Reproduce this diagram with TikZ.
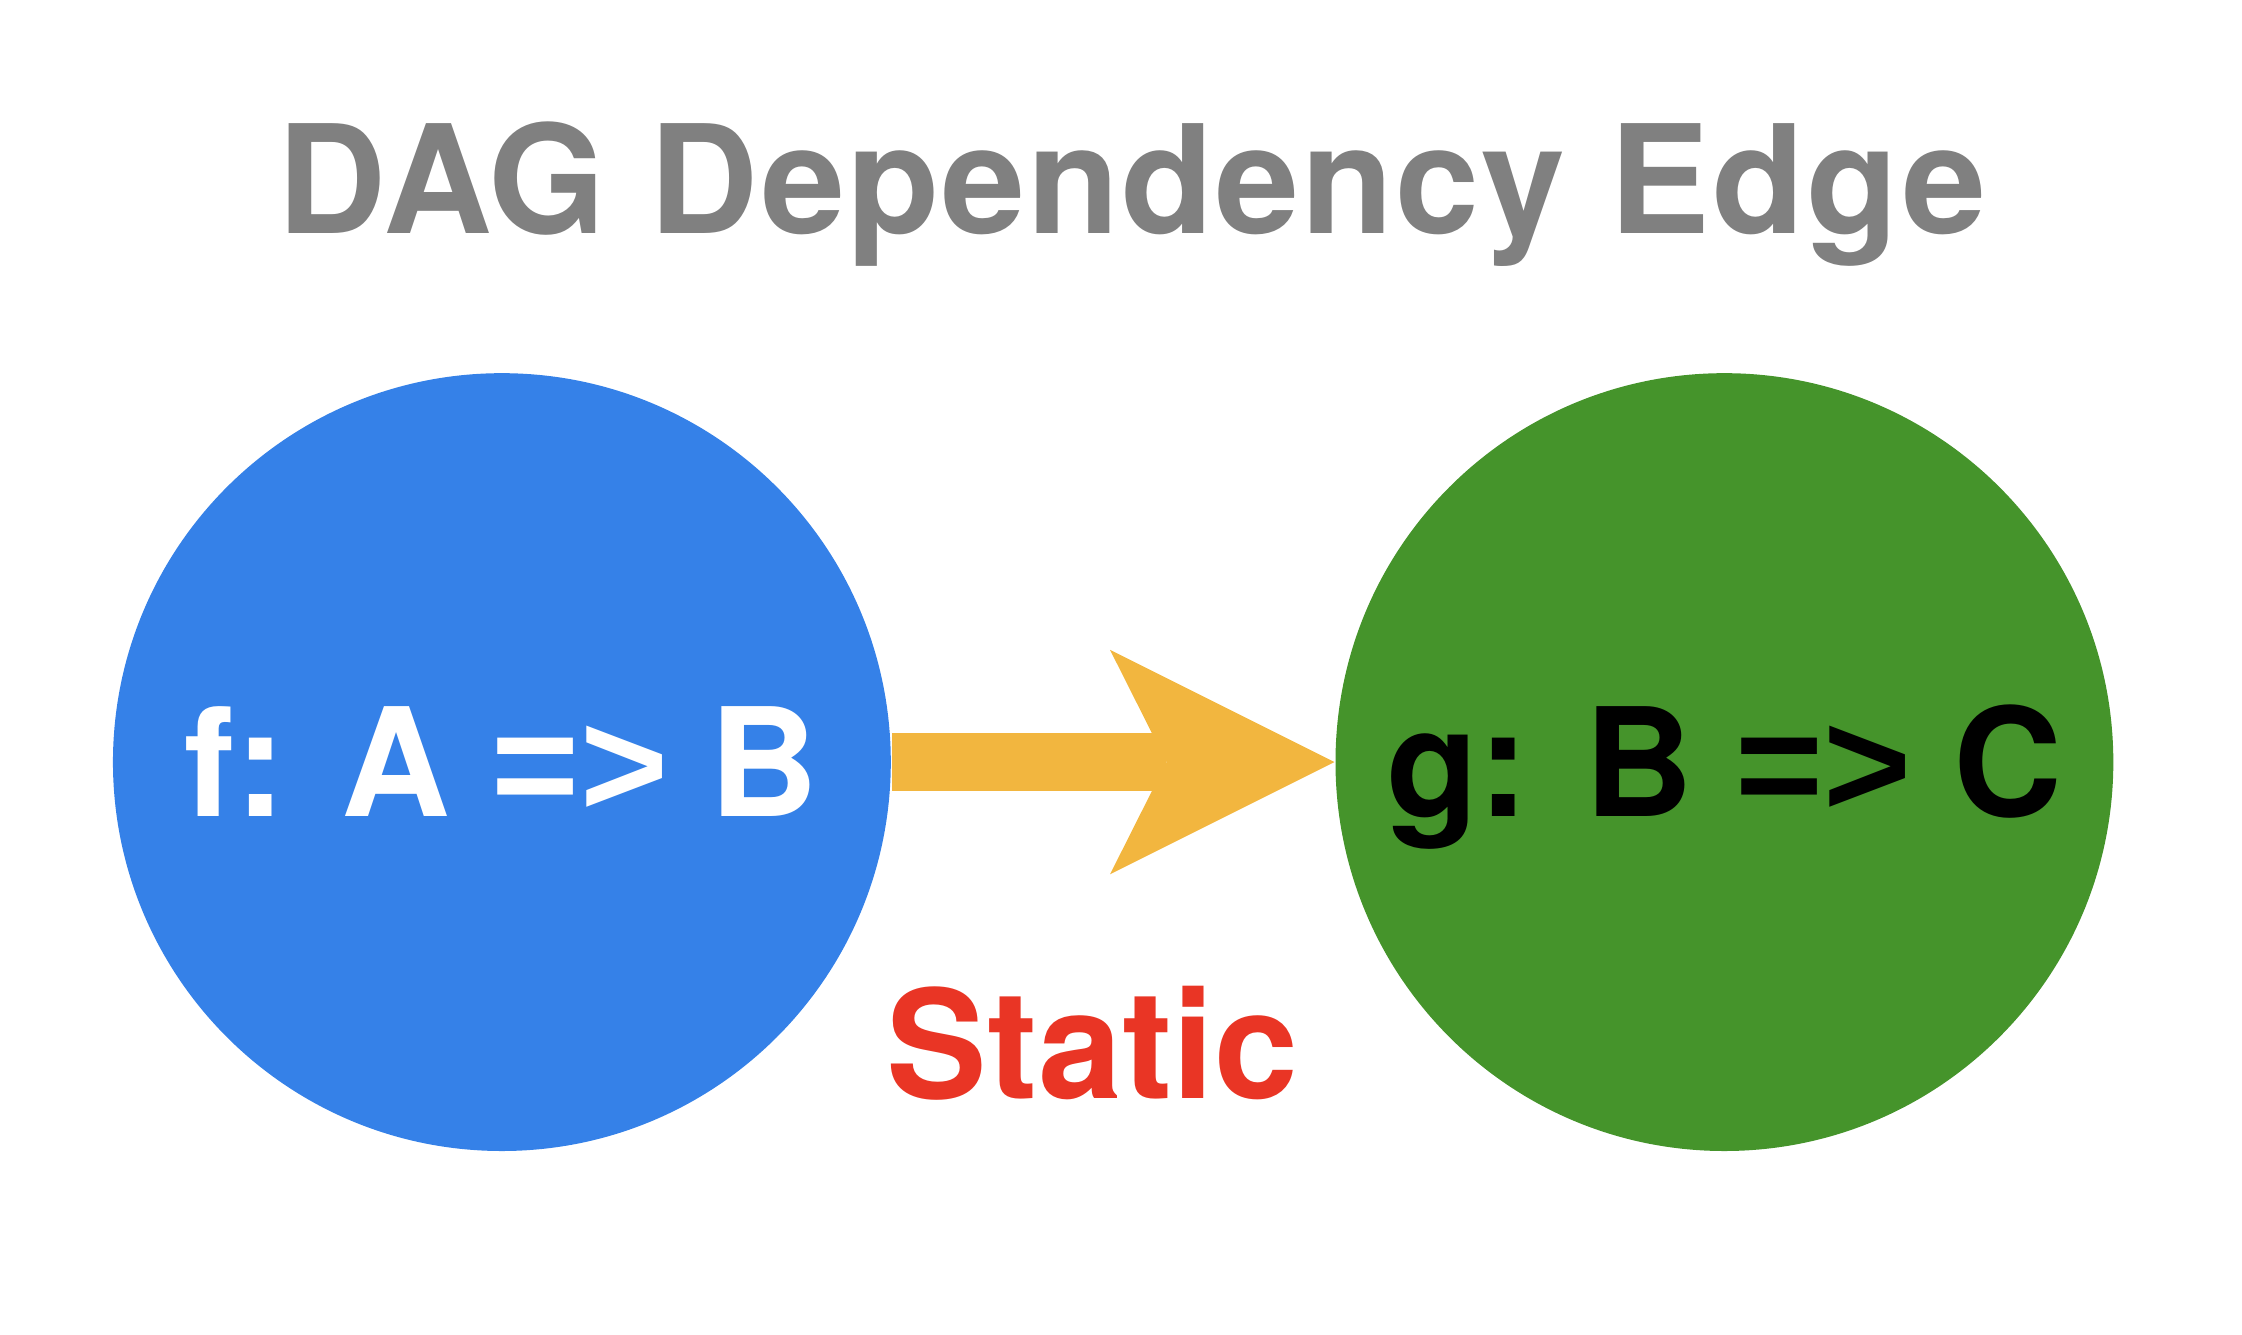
\documentclass[tikz,border=0pt]{standalone}
\usepackage{fontspec}
\setmainfont{TeX Gyre Heros}
\newfontfamily\gtfont{Liberation Sans}
\newfontfamily\titlefont[LetterSpace=1.4]{TeX Gyre Heros}
\usetikzlibrary{arrows.meta,positioning}
\definecolor{funblue}{RGB}{53,129,232}
\definecolor{fungreen}{RGB}{69,148,43}
\definecolor{edgeorange}{RGB}{242,182,63}
\definecolor{staticred}{RGB}{233,53,37}
\definecolor{titlegray}{RGB}{128,128,128}
\newcommand{\maps}{{\gtfont =>}}

\begin{document}
\begin{tikzpicture}[
  bigfont/.style={font=\fontsize{30}{36}\selectfont\bfseries},
  func/.style={circle, minimum size=5.44cm, inner sep=0pt, bigfont,
               text height=21.6pt, text depth=0pt},
  depedge/.style={line width=4mm, edgeorange,
                  -{Stealth[length=15.7mm, width=15.7mm, inset=3.95mm, line width=0pt]}}
]
  \useasboundingbox (0,0) rectangle (15.68,9.33);
  \node[bigfont, titlegray, anchor=base] (title) at (7.915,7.70) {\titlefont DAG Dependency Edge};
  \node[func, fill=funblue, text=white] (f) at (3.51,4.00) {f: A \maps{} B};
  \node[func, fill=fungreen, text=black] (g) at (12.06,4.00) {g: B \maps{} C};
  \draw[depedge] (f) -- (g);
  \node[bigfont, staticred, anchor=base] (kind) at (7.64,1.65) {Static};
\end{tikzpicture}
\end{document}
